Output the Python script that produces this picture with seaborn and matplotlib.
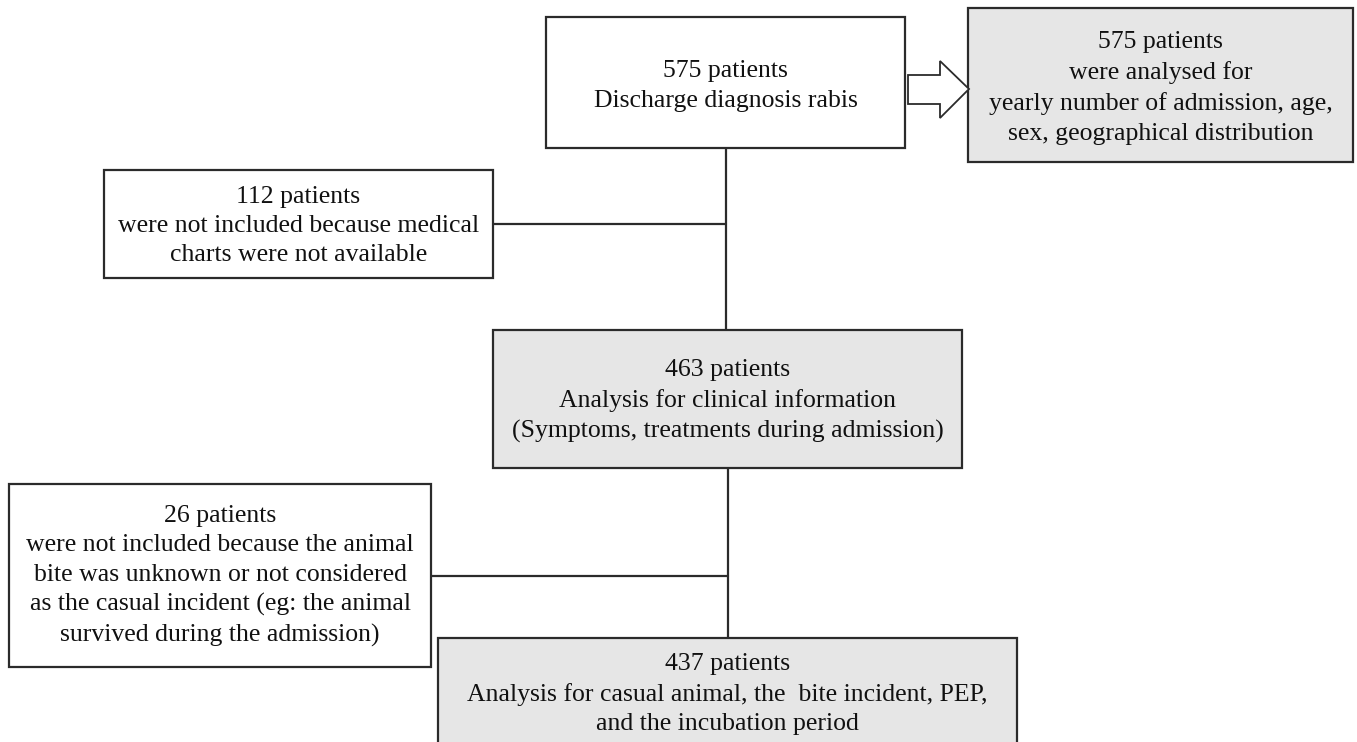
import matplotlib
matplotlib.use("Agg")
import matplotlib.pyplot as plt
from matplotlib.patches import Rectangle, Polygon
import seaborn as sns

# ---- content ----
box_texts = [
    "575 patients\nDischarge diagnosis rabis",
    "575 patients\nwere analysed for\nyearly number of admission, age,\nsex, geographical distribution",
    "112 patients\nwere not included because medical\ncharts were not available",
    "463 patients\nAnalysis for clinical information\n(Symptoms, treatments during admission)",
    "26 patients\nwere not included because the animal\nbite was unknown or not considered\nas the casual incident (eg: the animal\nsurvived during the admission)",
    "437 patients\nAnalysis for casual animal, the  bite incident, PEP,\nand the incubation period",
]
box_shaded = [False, True, False, True, False, True]

# ---- layout (pixel space) ----
boxes = [  # x0, y0, x1, y1
    (546, 17, 905, 148),
    (968, 8, 1353, 162),
    (104, 170, 493, 278),
    (493, 330, 962, 468),
    (9, 484, 431, 667),
    (438, 638, 1017, 760),
]
text_centers = [(725.5, 86), (1160.5, 88), (298.5, 226), (727.5, 401), (220, 576), (727.5, 694)]

sns.set_theme(style="white")
plt.rcParams['font.family'] = ['Liberation Serif', 'DejaVu Serif']

W, H = 1357, 742
fig = plt.figure(figsize=(W / 100, H / 100), dpi=100)
ax = fig.add_axes([0, 0, 1, 1])
ax.set_xlim(0, W)
ax.set_ylim(H, 0)
ax.axis("off")

edge = "#2b2b2b"
lw = 1.6

# connector lines
ax.plot([726, 726], [148, 330], color=edge, lw=lw, zorder=1)
ax.plot([493, 726], [224, 224], color=edge, lw=lw, zorder=1)
ax.plot([728, 728], [468, 638], color=edge, lw=lw, zorder=1)
ax.plot([431, 728], [576, 576], color=edge, lw=lw, zorder=1)

for (x0, y0, x1, y1), shaded in zip(boxes, box_shaded):
    ax.add_patch(Rectangle((x0, y0), x1 - x0, y1 - y0,
                           facecolor="#e6e6e6" if shaded else "white",
                           edgecolor=edge, lw=lw, zorder=2))

for (cx, cy), t in zip(text_centers, box_texts):
    ax.text(cx, cy, t, ha="center", va="center", multialignment="center",
            fontsize=18.5, color="#111111", linespacing=1.44, zorder=3)

# block arrow
arrow = [(908, 75), (940, 75), (940, 61), (969, 89), (940, 118), (940, 104), (908, 104)]
ax.add_patch(Polygon(arrow, closed=True, facecolor="white", edgecolor=edge, lw=1.3, zorder=3))

fig.savefig("out.png", dpi=100)
